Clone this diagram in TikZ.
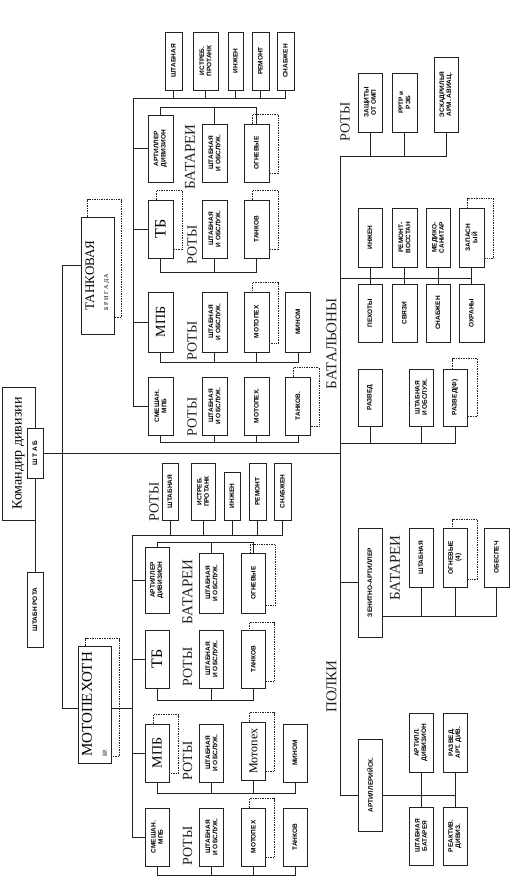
\documentclass[tikz,border=0pt]{standalone}
\usepackage{fontspec}
\setmainfont{Liberation Serif}
\setsansfont{Liberation Sans}
\usetikzlibrary{calc,backgrounds}
\definecolor{ink}{HTML}{222222}
\tikzset{
  wh/.style 2 args={minimum height=#1,minimum width=#2},
  box/.style={draw=ink,line width=0.9pt,fill=white,rotate=90,align=center,inner sep=1pt,font=\sffamily\bfseries\fontsize{6.5}{7.2}\selectfont},
  bigbox/.style={box,font=\rmfamily\fontsize{14}{15}\selectfont},
  grp/.style={rotate=90,inner sep=0pt,text=ink,font=\rmfamily\fontsize{14}{14}\selectfont},
  ghost/.style={draw=ink,densely dotted,line width=0.7pt},
  link/.style={draw=ink,line width=0.9pt}
}

\begin{document}
\begin{tikzpicture}[x=1pt,y=-1pt]
\useasboundingbox (0,0) rectangle (523,881);

% division command
\node[bigbox,wh={33}{133}] (cmd) at (18.5,453.5) {Командир дивизии};
\node[box,wh={16}{50}] (shtab) at (35,453) {Ш Т А Б};
\node[box,wh={16}{75}] (shrota) at (35,609.5) {ШТАБН РОТА};

% brigades
\node[bigbox,wh={33}{117},align=left,font=\rmfamily\fontsize{13}{14}\selectfont] (tank) at (97.5,275.5) {ТАНКОВАЯ\\{\fontsize{6}{6}\selectfont Б Р И Г А Д А}};
\node[bigbox,wh={33}{117},align=left,font=\rmfamily\fontsize{15}{15}\selectfont] (moto) at (94.5,704.5) {МОТОПЕХОТН\\{\fontsize{6}{6}\selectfont БР.}};

% tank brigade: companies
\node[box,wh={17}{58}] (tkhq) at (173.5,61) {ШТАБНАЯ};
\node[box,wh={25}{58}] (tkat) at (205.5,61) {ИСТРЕБ.\\ПРОТАНК};
\node[box,wh={15}{58}] (tkeng) at (235.5,61) {ИНЖЕН};
\node[box,wh={17}{58}] (tkrep) at (260.5,61) {РЕМОНТ};
\node[box,wh={17}{58}] (tksup) at (285.5,61) {СНАБЖЕН};

% tank brigade: battalions
\node[box,wh={25}{67}] (tkart) at (160.5,148.5) {АРТИЛЛЕР\\ДИВИЗИОН};
\node[bigbox,wh={25}{58},font=\rmfamily\fontsize{16}{16}\selectfont] (tktb) at (160.5,229) {ТБ};
\node[bigbox,wh={25}{60}] (tkmpb) at (160.5,322) {МПБ};
\node[box,wh={25}{58}] (tksm) at (160.5,406) {СМЕШАН.\\МПБ};

\node[box,wh={25}{58}] (tkarthq) at (214.5,153) {ШТАБНАЯ\\И ОБСЛУЖ.};
\node[box,wh={25}{58}] (tkartog) at (256.5,153) {ОГНЕВЫЕ};
\node[box,wh={25}{58}] (tktbhq) at (214.5,229) {ШТАБНАЯ\\И ОБСЛУЖ.};
\node[box,wh={25}{58}] (tktbtk) at (256.5,229) {ТАНКОВ};
\node[box,wh={25}{60}] (tkmpbhq) at (214.5,322) {ШТАБНАЯ\\И ОБСЛУЖ.};
\node[box,wh={25}{60}] (tkmpbmp) at (256.5,322) {МОТОПЕХ};
\node[box,wh={25}{60}] (tkmpbmin) at (298,322) {МИНОМ};
\node[box,wh={25}{58}] (tksmhq) at (214.5,406) {ШТАБНАЯ\\И ОБСЛУЖ.};
\node[box,wh={25}{58}] (tksmmp) at (256.5,406) {МОТОПЕХ.};
\node[box,wh={25}{58}] (tksmtk) at (298,406) {ТАНКОВ.};

\node[grp,font=\rmfamily\fontsize{15}{15}\selectfont] (tkbatl) at (190,157) {БАТАРЕИ};
\node[grp] (tktbl) at (192,245) {РОТЫ};
\node[grp] (tkmpbl) at (192,341) {РОТЫ};
\node[grp] (tksml) at (192,417) {РОТЫ};

% motor rifle brigade: companies
\node[box,wh={16}{57}] (mphq) at (170,491.5) {ШТАБНАЯ};
\node[box,wh={24}{57}] (mpat) at (203,491.5) {ИСТРЕБ.\\ПРОТАНК};
\node[box,wh={16}{48}] (mpeng) at (232,496) {ИНЖЕН};
\node[box,wh={17}{57}] (mprep) at (257.5,491.5) {РЕМОНТ};
\node[box,wh={17}{57}] (mpsup) at (282.5,491.5) {СНАБЖЕН};
\node[grp] (mprotl) at (154,502) {РОТЫ};

% motor rifle brigade: battalions
\node[box,wh={24}{66}] (mpart) at (157,580) {АРТИЛЛЕР\\ДИВИЗИОН};
\node[bigbox,wh={24}{58},font=\rmfamily\fontsize{16}{16}\selectfont] (mptb) at (157,659) {ТБ};
\node[bigbox,wh={24}{58}] (mpmpb) at (157,753) {МПБ};
\node[box,wh={24}{58}] (mpsm) at (157,837) {СМЕШАН.\\МПБ};

\node[box,wh={24}{60}] (mparthq) at (211.5,583) {ШТАБНАЯ\\И ОБСЛУЖ.};
\node[box,wh={24}{60}] (mpartog) at (253.5,583) {ОГНЕВЫЕ};
\node[box,wh={24}{58}] (mptbhq) at (211.5,659) {ШТАБНАЯ\\И ОБСЛУЖ.};
\node[box,wh={24}{58}] (mptbtk) at (253.5,659) {ТАНКОВ};
\node[box,wh={24}{58}] (mpmpbhq) at (211.5,753) {ШТАБНАЯ\\И ОБСЛУЖ.};
\node[box,wh={24}{58},font=\rmfamily\fontsize{12}{12}\selectfont] (mpmpbmp) at (253.5,751) {Мотопех};
\node[box,wh={24}{58}] (mpmpbmin) at (295,753) {МИНОМ};
\node[box,wh={24}{58}] (mpsmhq) at (211.5,837) {ШТАБНАЯ\\И ОБСЛУЖ.};
\node[box,wh={24}{58}] (mpsmmp) at (253.5,837) {МОТОПЕХ};
\node[box,wh={24}{58}] (mpsmtk) at (295,837) {ТАНКОВ};

\node[grp,font=\rmfamily\fontsize{15}{15}\selectfont] (mpbatl) at (187.5,592) {БАТАРЕИ};
\node[grp] (mptbl) at (187.5,667) {РОТЫ};
\node[grp] (mpmpbl) at (187.5,761) {РОТЫ};
\node[grp] (mpsml) at (187.5,846) {РОТЫ};

% division units
\node[box,wh={24}{59}] (zash) at (370,102.5) {ЗАЩИТЫ\\ОТ ОМП};
\node[box,wh={25}{59}] (rrtr) at (404.5,102.5) {РРТР и\\РЭБ};
\node[box,wh={24}{75}] (esk) at (446,94.5) {ЭСКАДРИЛЬЯ\\АРМ. АВИАЦ.};
\node[grp] (dvrotl) at (345,122) {РОТЫ};

\node[box,wh={24}{59}] (inzh) at (370,237.5) {ИНЖЕН};
\node[box,wh={25}{59}] (remv) at (404.5,237.5) {РЕМОНТ-\\ВОССТАН};
\node[box,wh={24}{59}] (med) at (438,237.5) {МЕДИКО-\\САНИТАР};
\node[box,wh={25}{59}] (zap) at (471.5,237.5) {ЗАПАСН\\ЫЙ};
\node[box,wh={24}{58}] (pekh) at (370,313) {ПЕХОТЫ};
\node[box,wh={25}{58}] (svyaz) at (404.5,313) {СВЯЗИ};
\node[box,wh={24}{58}] (snab) at (438,313) {СНАБЖЕН};
\node[box,wh={25}{58}] (ohr) at (471.5,313) {ОХРАНЫ};

\node[box,wh={24}{57}] (razv) at (370,397.5) {РАЗВЕД};
\node[box,wh={24}{57}] (bnhq) at (421,397.5) {ШТАБНАЯ\\И ОБСЛУЖ.};
\node[box,wh={24}{57}] (razf) at (455,397.5) {РАЗВЕД(Ф)};
\node[grp,font=\rmfamily\fontsize{15}{15}\selectfont] (dvbnl) at (331.5,344) {БАТАЛЬОНЫ};

\node[box,wh={24}{109}] (zen) at (370,582.5) {ЗЕНИТНО-АРТИЛЛЕР};
\node[box,wh={24}{59}] (zenhq) at (421,557.5) {ШТАБНАЯ};
\node[box,wh={24}{59}] (zenog) at (455,557.5) {ОГНЕВЫЕ\\(4)};
\node[box,wh={25}{59}] (zenob) at (496.5,557.5) {ОБЕСПЕЧ};
\node[grp,font=\rmfamily\fontsize{15}{15}\selectfont] (zenbatl) at (395,568) {БАТАРЕИ};

\node[box,wh={24}{92}] (arp) at (370,785) {АРТИЛЛЕРИЙСК.};
\node[box,wh={24}{59}] (ardiv) at (421,742.5) {АРТИЛЛ.\\ДИВИЗИОН};
\node[box,wh={24}{59}] (arrz) at (455,742.5) {РАЗВЕД.\\АРТ. ДИВ.};
\node[box,wh={24}{58}] (arhq) at (421,836) {ШТАБНАЯ\\БАТАРЕЯ};
\node[box,wh={24}{58}] (arre) at (455,836) {РЕАКТИВ.\\ДИВИЗ.};
\node[grp,font=\rmfamily\fontsize{15}{15}\selectfont] (polkl) at (331.5,686.5) {ПОЛКИ};

% junctions
\coordinate (tkj) at (62,265);
\coordinate (mpj) at (62,708);
\coordinate (tktop) at (133,98);
\coordinate (mptop) at (132,535);
\coordinate (dvtop) at (340,156);
\coordinate (divj) at (340,453);
\coordinate (bn1) at (340,278);
\coordinate (bn2) at (340,443);
\coordinate (arj) at (340,795);
\coordinate (zenb) at (382,616);
\coordinate (tkartb) at (160.5,107);
\coordinate (tktbb) at (160.5,272);
\coordinate (tkmpbb) at (160.5,362);
\coordinate (tksmb) at (160.5,442);
\coordinate (mpartb) at (157,542);
\coordinate (mptbb) at (157,700);
\coordinate (mpmpbb) at (157,793);
\coordinate (mpsmb) at (157,875);

\draw[link] (shtab.south) -- (divj);
\draw[link] (shtab.west) -- (shrota.east);
\draw[link] (tank.north |- tkj) -- (tkj) -- (mpj) -- (moto.north |- mpj);

% tank brigade links
\draw[link] (tktop) |- (tksm.north);
\draw[link] (tktop) -| (tksup.west);
\draw[link] (tkhq.west) -- (tkhq.west |- tktop);
\draw[link] (tkat.west) -- (tkat.west |- tktop);
\draw[link] (tkeng.west) -- (tkeng.west |- tktop);
\draw[link] (tkrep.west) -- (tkrep.west |- tktop);
\draw[link] (tkart.north) -- (tkart.north -| tktop);
\draw[link] (tktb.north) -- (tktb.north -| tktop);
\draw[link] (tkmpb.north) -- (tkmpb.north -| tktop);
\draw[link] (tkart.east) -- (tkartb) -| (tkartog.east);
\draw[link] (tkarthq.east) -- (tkarthq.east |- tkartb);
\draw[link] (tktb.west) -- (tktbb) -| (tktbtk.west);
\draw[link] (tktbhq.west) -- (tktbhq.west |- tktbb);
\draw[link] (tkmpb.west) -- (tkmpbb) -| (tkmpbmin.west);
\draw[link] (tkmpbhq.west) -- (tkmpbhq.west |- tkmpbb);
\draw[link] (tkmpbmp.west) -- (tkmpbmp.west |- tkmpbb);
\draw[link] (tksm.west) -- (tksmb) -| (tksmtk.west);
\draw[link] (tksmhq.west) -- (tksmhq.west |- tksmb);
\draw[link] (tksmmp.west) -- (tksmmp.west |- tksmb);

% motor rifle brigade links
\draw[link] (moto.south |- mpj) -- (mpj -| mptop);
\draw[link] (mptop) |- (mpsm.north);
\draw[link] (mptop) -| (mpsup.west);
\draw[link] (mphq.west) -- (mphq.west |- mptop);
\draw[link] (mpat.west) -- (mpat.west |- mptop);
\draw[link] (mpeng.west) -- (mpeng.west |- mptop);
\draw[link] (mprep.west) -- (mprep.west |- mptop);
\draw[link] (mpart.north) -- (mpart.north -| mptop);
\draw[link] (mptb.north) -- (mptb.north -| mptop);
\draw[link] (mpmpb.north) -- (mpmpb.north -| mptop);
\draw[link] (mpart.east) -- (mpartb) -| (mpartog.east);
\draw[link] (mparthq.east) -- (mparthq.east |- mpartb);
\draw[link] (mptb.west) -- (mptbb) -| (mptbtk.west);
\draw[link] (mptbhq.west) -- (mptbhq.west |- mptbb);
\draw[link] (mpmpb.west) -- (mpmpbb) -| (mpmpbmin.west);
\draw[link] (mpmpbhq.west) -- (mpmpbhq.west |- mpmpbb);
\draw[link] (mpmpbmp.west) -- (mpmpbmp.west |- mpmpbb);
\draw[link] (mpsm.west) -- (mpsmb) -| (mpsmtk.west);
\draw[link] (mpsmhq.west) -- (mpsmhq.west |- mpsmb);
\draw[link] (mpsmmp.west) -- (mpsmmp.west |- mpsmb);

% division links
\draw[link] (dvtop) -- (arj);
\draw[link] (dvtop) -| (esk.west);
\draw[link] (zash.west) -- (zash.west |- dvtop);
\draw[link] (rrtr.west) -- (rrtr.west |- dvtop);
\draw[link] (bn1) -- (zap.west |- bn1);
\draw[link] (inzh.west) -- (pekh.east);
\draw[link] (remv.west) -- (svyaz.east);
\draw[link] (med.west) -- (snab.east);
\draw[link] (zap.west) -- (ohr.east);
\draw[link] (bn2) -| (razf.west);
\draw[link] (razv.west) -- (razv.west |- bn2);
\draw[link] (bnhq.west) -- (bnhq.west |- bn2);
\draw[link] (zen.north -| divj) -- (zen.north);
\draw[link] (zen.south |- zenb) -| (zenob.west);
\draw[link] (zenhq.west) -- (zenhq.west |- zenb);
\draw[link] (zenog.west) -- (zenog.west |- zenb);
\draw[link] (arj) -- (arp.north |- arj);
\draw[link] (arp.south |- arj) -- (arrz.west |- arj);
\draw[link] (ardiv.west) -- (arhq.east);
\draw[link] (arrz.west) -- (arre.east);

% dotted copies behind the boxes
\begin{scope}[on background layer]
\fill[white] (0,0) rectangle (523,881);
\draw[ghost] ($(tank.north west)+(7,-17)$) rectangle ($(tank.south east)+(7,-17)$);
\draw[ghost] ($(moto.north west)+(8,-7)$) rectangle ($(moto.south east)+(8,-7)$);
\draw[ghost] ($(tktb.north west)+(9,-9)$) rectangle ($(tktb.south east)+(9,-9)$);
\draw[ghost] ($(tkartog.north west)+(9,-9)$) rectangle ($(tkartog.south east)+(9,-9)$);
\draw[ghost] ($(tktbtk.north west)+(9,-9)$) rectangle ($(tktbtk.south east)+(9,-9)$);
\draw[ghost] ($(tkmpbmp.north west)+(9,-9)$) rectangle ($(tkmpbmp.south east)+(9,-9)$);
\draw[ghost] ($(tksmtk.north west)+(8,-9)$) rectangle ($(tksmtk.south east)+(8,-9)$);
\draw[ghost] ($(mpmpb.north west)+(9,-9)$) rectangle ($(mpmpb.south east)+(9,-9)$);
\draw[ghost] ($(mpartog.north west)+(9,-8)$) rectangle ($(mpartog.south east)+(9,-8)$);
\draw[ghost] ($(mptbtk.north west)+(8,-7)$) rectangle ($(mptbtk.south east)+(8,-7)$);
\draw[ghost] ($(mpmpbmp.north west)+(8,-9)$) rectangle ($(mpmpbmp.south east)+(8,-9)$);
\draw[ghost] ($(mpsmmp.north west)+(8,-9)$) rectangle ($(mpsmmp.south east)+(8,-9)$);
\draw[ghost] ($(zap.north west)+(9,-9)$) rectangle ($(zap.south east)+(9,-9)$);
\draw[ghost] ($(razf.north west)+(10,-10)$) rectangle ($(razf.south east)+(10,-10)$);
\draw[ghost] ($(zenog.north west)+(10,-8)$) rectangle ($(zenog.south east)+(10,-8)$);
\end{scope}
\end{tikzpicture}
\end{document}
